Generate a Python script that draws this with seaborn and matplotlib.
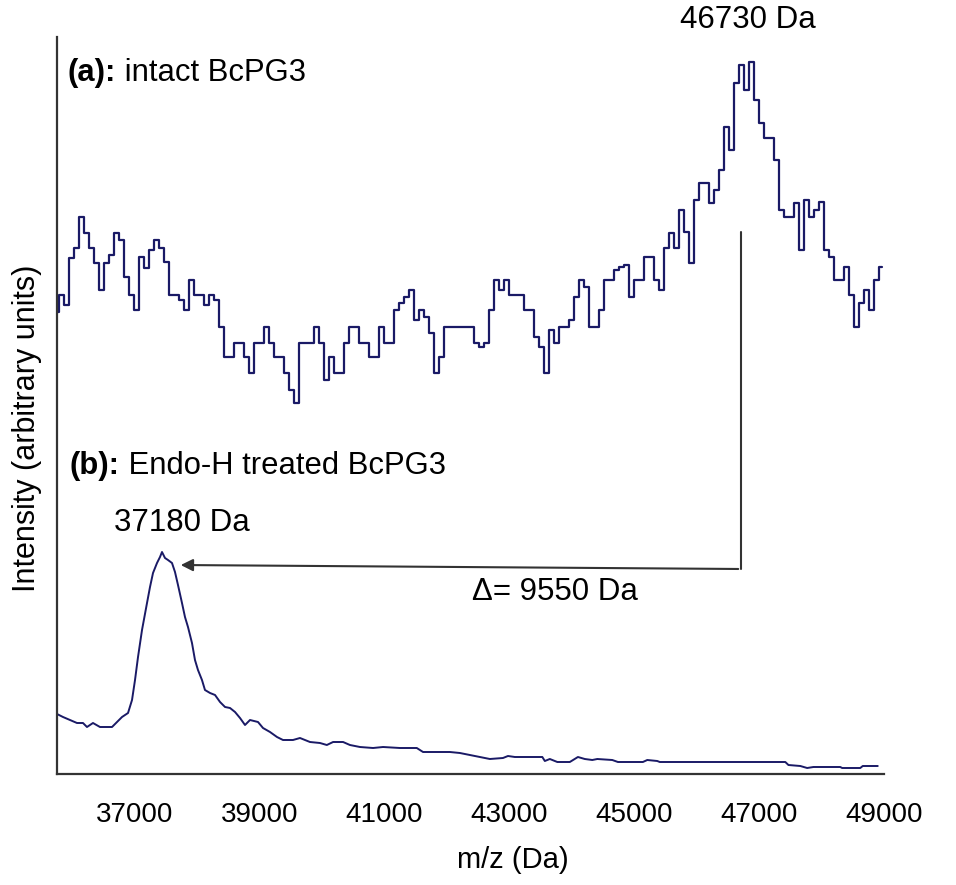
import matplotlib
matplotlib.use("Agg")
import matplotlib.pyplot as plt
import numpy as np
import pandas as pd
import seaborn as sns

# spettro (a): BcPG3 intatta, un valore ogni 80 Da a partire da 35760 Da
mz_a_start = 35760
mz_a_step = 80
int_a = [461, 478, 468, 515, 525, 556, 540, 525, 510, 483, 510, 518, 540, 533, 496, 478, 463, 516, 505, 523,
         533, 525, 511, 478, 478, 473, 463, 493, 478, 478, 468, 478, 473, 446, 416, 416, 430, 430, 416, 400,
         430, 430, 446, 430, 416, 416, 400, 383, 370, 430, 430, 430, 446, 430, 393, 416, 400, 400, 430,
         446, 446, 430, 430, 416, 416, 446, 430, 430, 463, 470, 476, 483, 453, 463, 456, 440, 400, 416, 446,
         446, 446, 446, 446, 446, 430, 426, 430, 463, 493, 483, 493, 478, 478, 478, 463, 463, 436, 426, 400,
         443, 430, 446, 446, 453, 476, 493, 486, 446, 446, 463, 493, 493, 503, 506, 508,
         476, 493, 493, 516, 516, 493, 483, 525, 540, 525, 563, 541, 510, 573, 590, 590, 570, 583, 603, 646,
         623, 690, 708, 683, 711, 673, 650, 635, 635, 613, 563, 556, 556, 570, 523, 573, 556, 563, 571, 523,
         516, 493, 493, 506, 478, 446, 470, 483, 463, 493, 506]
mz_a = mz_a_start + mz_a_step * np.arange(len(int_a))

# spettro (b): BcPG3 trattata con Endo-H
mz_b = [35760, 35856, 35968, 36080, 36176, 36240, 36336, 36448, 36561, 36641,
        36721, 36801, 36897, 36961, 37009, 37057, 37121, 37201, 37249, 37297,
        37361, 37409, 37441, 37489, 37537, 37601, 37649, 37697, 37761, 37809,
        37857, 37921, 37969, 38017, 38081, 38129, 38210, 38290, 38370, 38450,
        38530, 38610, 38690, 38770, 38850, 38978, 39058, 39170, 39282, 39378,
        39538, 39650, 39810, 39970, 40080, 40180, 40340, 40450, 40610, 40820,
        40980, 41250, 41520, 41620, 41780, 42050, 42210, 42370,
        42690, 42900, 42980, 43090, 43530, 43570, 43650, 43770, 43970, 44100,
        44210, 44330, 44410, 44650, 44740, 45140, 45210, 45370, 45410, 46050,
        47420, 47470, 47660, 47770, 47870, 48300, 48330, 48620, 48660, 48900]
int_b = [59, 56, 53, 50, 50, 46, 50, 46, 46, 46,
         51, 56, 60, 73, 93, 116, 143, 170, 186, 200,
         210, 216, 221, 215, 213, 210, 201, 188, 170, 156,
         146, 130, 113, 103, 93, 83, 80, 78, 71, 66,
         65, 61, 55, 48, 53, 51, 45, 41, 36, 33,
         33, 35, 31, 30, 28, 31, 31, 28, 26, 25,
         26, 25, 25, 21, 21, 21, 20, 18,
         14, 15, 17, 16, 16, 12, 14, 11, 11, 16,
         14, 13, 14, 13, 11, 11, 13, 12, 11, 11,
         11, 8, 7, 5, 6, 6, 5, 5, 7, 7]

xticks = [37000, 39000, 41000, 43000, 45000, 47000, 49000]
peak_a = 46711
peak_b = 37697

df_a = pd.DataFrame({"mz": mz_a, "intensity": int_a})
df_b = pd.DataFrame({"mz": mz_b, "intensity": int_b})

sns.set_theme(style="white")
plt.rcParams["font.family"] = ["Liberation Sans", "DejaVu Sans"]
plt.rcParams["text.color"] = "black"
plt.rcParams["axes.labelcolor"] = "black"
plt.rcParams["xtick.color"] = "black"

fig = plt.figure(figsize=(9.56, 8.85), dpi=100)
ax = fig.add_axes([57 / 956, 1 - 774 / 885, 827 / 956, 737 / 885])

colore = "#1a1a66"
sns.lineplot(data=df_a, x="mz", y="intensity", ax=ax, color=colore, lw=1.6,
             drawstyle="steps-mid", estimator=None)
sns.lineplot(data=df_b, x="mz", y="intensity", ax=ax, color=colore, lw=1.4,
             estimator=None)

ax.set_xlim(35760, 49000)
ax.set_ylim(-1, 736)
ax.set_xticks(xticks)
ax.set_xticklabels([str(t) for t in xticks], fontsize=20)
ax.set_yticks([])
ax.tick_params(axis="x", direction="out", length=9, width=1.2, color="#333333", pad=11)
ax.set_xlabel("m/z (Da)", fontsize=21)
ax.set_ylabel("Intensity (arbitrary units)", fontsize=22)
ax.xaxis.set_label_coords(0.551, -0.098)
ax.yaxis.set_label_coords(-0.018, 0.469)

for s in ["top", "right"]:
    ax.spines[s].set_visible(False)
for s in ["left", "bottom"]:
    ax.spines[s].set_color("#333333")
    ax.spines[s].set_linewidth(1.6)

# freccia e linea della differenza di massa
ax.plot([peak_a, peak_a], [541, 204], color="#333333", lw=1.5)
ax.annotate("", xy=(peak_b, 208), xytext=(peak_a, 204),
            arrowprops=dict(arrowstyle="-|>", color="#333333", lw=1.5, mutation_scale=18))

# etichette dei due spettri: parte in grassetto + testo normale
ta = ax.text(35936, 700, "(a):", fontsize=22.3, fontweight="bold", ha="left", va="center")
ax.annotate(" intact BcPG3", xy=(1, 0.5), xycoords=ta, fontsize=22.3, ha="left", va="center")
tb = ax.text(35968, 307, "(b):", fontsize=22.3, fontweight="bold", ha="left", va="center")
ax.annotate(" Endo-H treated BcPG3", xy=(1, 0.5), xycoords=tb, fontsize=22.3, ha="left", va="center")

ax.text(46823, 753, "46730 Da", fontsize=22.5, ha="center", va="center")
ax.text(37761, 250, "37180 Da", fontsize=22.5, ha="center", va="center")
ax.text(43733, 181, "\u0394= 9550 Da", fontsize=22.5, ha="center", va="center")

fig.savefig("out.png", dpi=100)
